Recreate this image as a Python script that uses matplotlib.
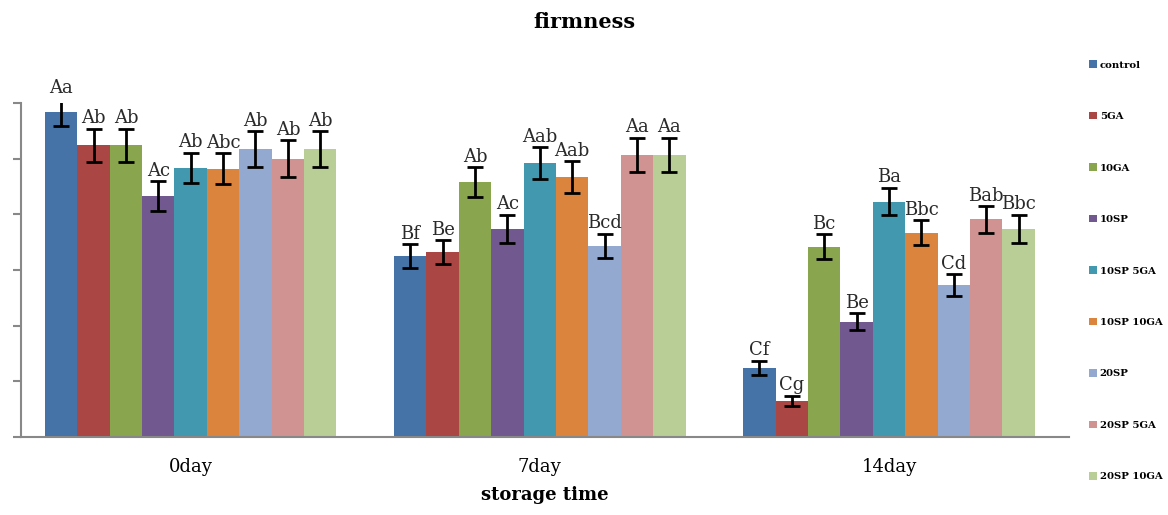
import matplotlib.pyplot as plt
import numpy as np

# firmness by storage time, nine coating treatments
days = ['0day', '7day', '14day']
treatments = ['control', '5GA', '10GA', '10SP', '10SP 5GA',
              '10SP 10GA', '20SP', '20SP 5GA', '20SP 10GA']
colors = ['#4572A7', '#AA4643', '#89A54E', '#71588F', '#4198AF',
          '#DB843D', '#93A9CF', '#D19392', '#B9CD96']

# rows = treatment, cols = day
firmness = [
    [5.83, 3.25, 1.24],
    [5.24, 3.32, 0.65],
    [5.24, 4.58, 3.42],
    [4.33, 3.74, 2.07],
    [4.84, 4.92, 4.23],
    [4.82, 4.67, 3.67],
    [5.17, 3.43, 2.73],
    [5.00, 5.07, 3.91],
    [5.17, 5.07, 3.74],
]
errors = [
    [0.25, 0.21, 0.13],
    [0.30, 0.22, 0.09],
    [0.30, 0.27, 0.22],
    [0.27, 0.25, 0.15],
    [0.27, 0.29, 0.25],
    [0.28, 0.28, 0.23],
    [0.32, 0.22, 0.19],
    [0.33, 0.31, 0.24],
    [0.32, 0.31, 0.25],
]
letters = [
    ['Aa', 'Bf', 'Cf'],
    ['Ab', 'Be', 'Cg'],
    ['Ab', 'Ab', 'Bc'],
    ['Ac', 'Ac', 'Be'],
    ['Ab', 'Aab', 'Ba'],
    ['Abc', 'Aab', 'Bbc'],
    ['Ab', 'Bcd', 'Cd'],
    ['Ab', 'Aa', 'Bab'],
    ['Ab', 'Aa', 'Bbc'],
]

serif = ['DejaVu Serif']
fig = plt.figure(figsize=(11.68, 5.15), dpi=100)
ax = fig.add_axes([0.018, 0.1515, 0.897, 0.6485])

x = np.arange(len(days))
width = 0.0928
n = len(treatments)
handles = []
for i, name in enumerate(treatments):
    pos = x + (i - (n - 1) / 2) * width
    b = ax.bar(pos, firmness[i], width, color=colors[i], label=name,
               yerr=errors[i], capsize=5.5,
               error_kw=dict(ecolor='black', elinewidth=2, capthick=2))
    handles.append(b)
    for p, v, e, t in zip(pos, firmness[i], errors[i], letters[i]):
        ax.annotate(t, (p, v + e), xytext=(0, 1), textcoords='offset points',
                    ha='center', va='bottom', fontsize=13, family=serif,
                    color='#2a2a2a', annotation_clip=False)

ax.set_xlim(-0.486, 2.515)
ax.set_ylim(0, 6)
ax.set_yticks(np.arange(0, 7, 1))
ax.set_yticklabels([])
ax.tick_params(axis='y', direction='out', length=6, color='#888888', width=1.5)
ax.set_xticks(x)
ax.set_xticklabels(days, family=serif, fontsize=13)
ax.tick_params(axis='x', length=0, pad=15)
for s in ['top', 'right']:
    ax.spines[s].set_visible(False)
for s in ['left', 'bottom']:
    ax.spines[s].set_color('#888888')
    ax.spines[s].set_linewidth(1.5)

fig.text(0.5, 0.958, 'firmness', ha='center', va='center',
         family=serif, fontsize=15, fontweight='bold')
ax.set_xlabel('storage time', family=serif, fontsize=13, fontweight='bold',
              labelpad=7)

fig.legend(handles=handles, labels=treatments, loc='upper left',
           bbox_to_anchor=(0.929, 0.891), frameon=False,
           prop=dict(family=serif, size=7.3, weight='bold'),
           handlelength=0.8, handleheight=0.8, handletextpad=0.25,
           labelspacing=4.15, borderaxespad=0)

fig.savefig('out.png', dpi=100)
